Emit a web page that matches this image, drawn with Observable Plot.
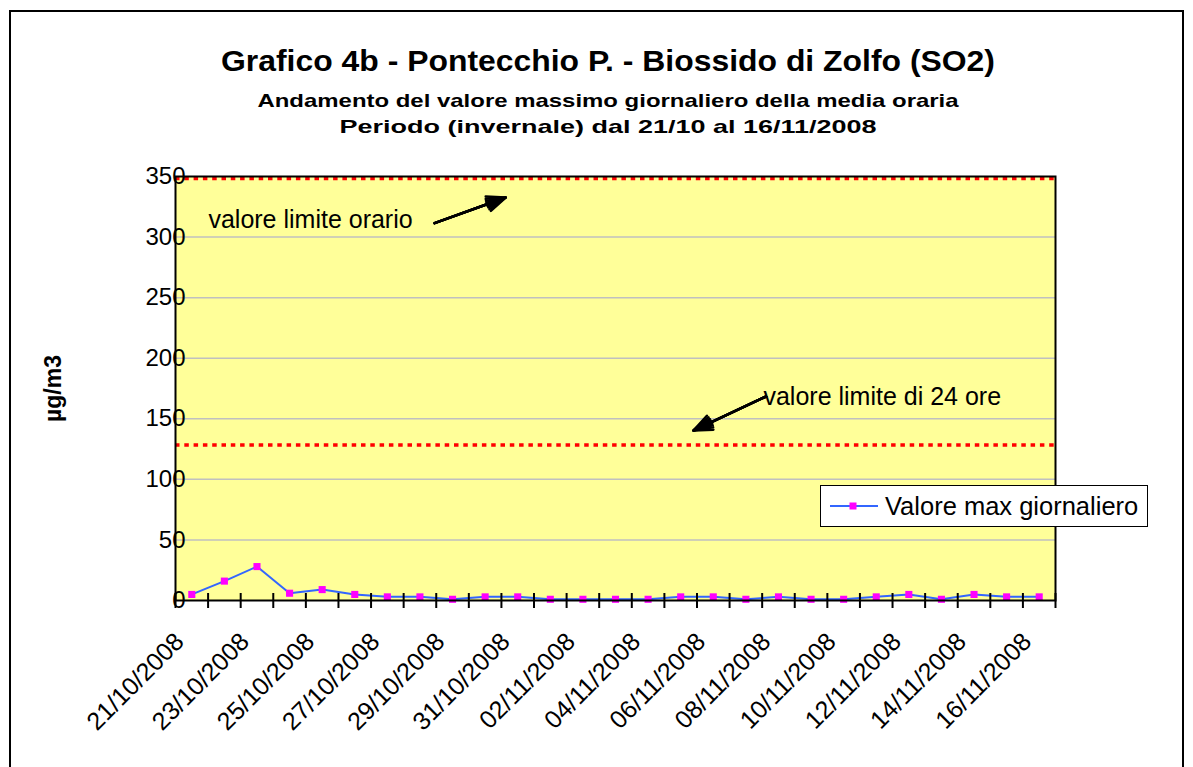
<!DOCTYPE html>
<html>
<head>
<meta charset="utf-8">
<script src="https://cdn.jsdelivr.net/npm/d3@7"></script>
<script src="https://cdn.jsdelivr.net/npm/@observablehq/plot@0.6"></script>
<style>
  body { margin: 0; background: #fff; font-family: "Liberation Sans", Arial, sans-serif; }
  #wrap { position: relative; width: 1193px; height: 767px; overflow: hidden; background: #fff; }
  #border { position: absolute; left: 9px; top: 10px; width: 1171px; height: 800px; border: 2px solid #000; }
  .t { position: absolute; left: 0; width: 1216px; text-align: center; font-weight: bold; white-space: nowrap; color: #000; transform-origin: 608px 50%; }
  #title { top: 44px; font-size: 29px; line-height: 34px; transform: scaleX(1.1); }
  #sub1 { top: 90px; font-size: 19px; line-height: 22px; transform: scaleX(1.26); }
  #sub2 { top: 116px; font-size: 19px; line-height: 22px; transform: scaleX(1.42); }
  #chart { position: absolute; left: 0; top: 150px; }
  #legend { position: absolute; left: 820px; top: 485px; width: 326px; height: 40px; border: 1.5px solid #000; background: #fff; display: flex; align-items: center; }
  #legend svg { flex: none; }
  #legend span { font-size: 25.5px; margin-left: 2px; white-space: nowrap; }
</style>
</head>
<body>
<div id="wrap">
  <div id="border"></div>
  <div class="t" id="title"></div>
  <div class="t" id="sub1"></div>
  <div class="t" id="sub2"></div>
  <div id="chart"></div>
  <div id="legend"></div>
</div>
<script>
// ---- data ----
const titleText = "Grafico 4b - Pontecchio P. - Biossido di Zolfo (SO2)";
const subtitle1 = "Andamento del valore massimo giornaliero della media oraria";
const subtitle2 = "Periodo (invernale) dal 21/10 al 16/11/2008";
const yLabel = "µg/m3";
const seriesName = "Valore max giornaliero";

const dates = [
  "21/10/2008","22/10/2008","23/10/2008","24/10/2008","25/10/2008","26/10/2008","27/10/2008",
  "28/10/2008","29/10/2008","30/10/2008","31/10/2008","01/11/2008","02/11/2008","03/11/2008",
  "04/11/2008","05/11/2008","06/11/2008","07/11/2008","08/11/2008","09/11/2008","10/11/2008",
  "11/11/2008","12/11/2008","13/11/2008","14/11/2008","15/11/2008","16/11/2008"
];
const values = [5,16,28,6,9,5,3,3,1,3,3,1,1,1,1,3,3,1,3,1,1,3,5,1,5,3,3];

const yTicks = [0,50,100,150,200,250,300,350];
const gridValues = [50,100,150,200,250,300];
const limitValues = [350,130];

const noteText = ["valore limite orario","valore limite di 24 ore"];
const noteX = [0.51,17.54];
const noteY = [314.5,167.8];
const arrowX1 = [7.45,17.62];
const arrowY1 = [311.5,168.4];
const arrowX2 = [9.63,15.39];
const arrowY2 = [332.7,140.3];

// ---- derived tables ----
const idx = d3.range(dates.length);
const series = idx.map(i => ({i, date: dates[i], value: values[i]}));
const labelIdx = idx.filter(i => i % 2 === 0);
const bounds = d3.range(dates.length + 1).map(k => k - 0.5);
const notes = noteText.map((t, k) => ({text: t, x: noteX[k], y: noteY[k]}));
const arrows = arrowX1.map((_, k) => ({x1: arrowX1[k], y1: arrowY1[k], x2: arrowX2[k], y2: arrowY2[k]}));

document.getElementById("title").textContent = titleText;
document.getElementById("sub1").textContent = subtitle1;
document.getElementById("sub2").textContent = subtitle2;

// arrows with filled-looking heads (several heads of decreasing angle stacked)
const arrowMarks = [45, 32, 20, 10].map(a =>
  Plot.arrow(arrows, {x1: "x1", y1: "y1", x2: "x2", y2: "y2", stroke: "#000", strokeWidth: 2.5, headLength: 12, headAngle: a})
);

const chart = Plot.plot({
  width: 1193,
  height: 600,
  marginTop: 26,
  marginBottom: 150,
  marginLeft: 175,
  marginRight: 138,
  style: {fontFamily: "Liberation Sans, Arial, sans-serif", fontSize: "20px", background: "transparent", overflow: "visible", color: "#000"},
  x: {type: "linear", domain: [-0.5, dates.length - 0.5]},
  y: {domain: [0, 350]},
  marks: [
    Plot.frame({fill: "#FFFF99"}),
    Plot.ruleY(gridValues, {stroke: "#C0C0C0", strokeWidth: 1.5}),
    Plot.ruleY(limitValues, {stroke: "#FF0000", strokeWidth: 3.5, strokeDasharray: "4.5,4.8", dy: 2}),
    Plot.line(series, {x: "i", y: "value", stroke: "#3366FF", strokeWidth: 2}),
    Plot.dot(series, {x: "i", y: "value", symbol: "square", r: 4, fill: "#FF00FF", stroke: "none"}),
    Plot.frame({stroke: "#000", strokeWidth: 2}),
    Plot.axisY({ticks: yTicks, tickSize: 0, tickPadding: -10, label: null, fontSize: 24}),
    Plot.axisX({ticks: bounds, tickSize: 8, tickFormat: () => "", label: null, strokeWidth: 2}),
    Plot.axisX({ticks: bounds, tickSize: -7, tickFormat: () => "", label: null, strokeWidth: 2}),
    Plot.axisX({ticks: labelIdx, tickSize: 0, tickPadding: 37, dx: -12, tickRotate: -45, tickFormat: i => dates[i], label: null, fontSize: 25}),
    Plot.text(notes, {x: "x", y: "y", text: "text", textAnchor: "start", fontSize: 25}),
    ...arrowMarks,
    Plot.text([yLabel], {frameAnchor: "left", dx: -122, rotate: -90, textAnchor: "middle", fontWeight: "bold", fontSize: 23})
  ]
});
document.getElementById("chart").appendChild(chart);

// legend
const legend = document.getElementById("legend");
legend.innerHTML = `<svg width="62" height="40"><line x1="9" x2="57" y1="20" y2="20" stroke="#3366FF" stroke-width="2"/><rect x="28.5" y="16.5" width="7" height="7" fill="#FF00FF"/></svg><span>${seriesName}</span>`;
</script>
</body>
</html>
